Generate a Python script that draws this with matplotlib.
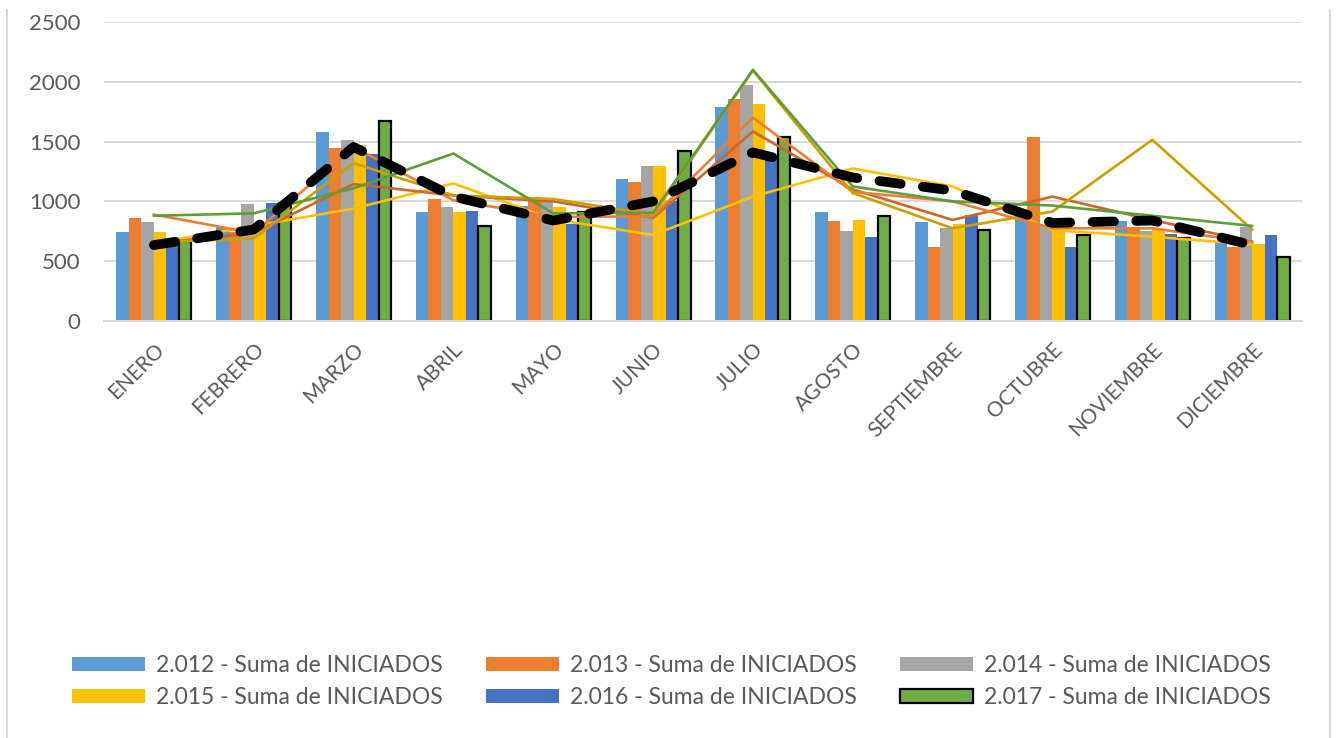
import matplotlib
matplotlib.use("Agg")
import matplotlib.pyplot as plt
import numpy as np
from matplotlib.lines import Line2D

months = ["ENERO", "FEBRERO", "MARZO", "ABRIL", "MAYO", "JUNIO", "JULIO",
          "AGOSTO", "SEPTIEMBRE", "OCTUBRE", "NOVIEMBRE", "DICIEMBRE"]

series_names = ["2.012 - Suma de INICIADOS", "2.013 - Suma de INICIADOS",
                "2.014 - Suma de INICIADOS", "2.015 - Suma de INICIADOS",
                "2.016 - Suma de INICIADOS", "2.017 - Suma de INICIADOS"]

b2012 = [740, 790, 1580, 910, 965, 1185, 1790, 910, 830, 930, 840, 650]
b2013 = [865, 740, 1450, 1020, 1000, 1160, 1860, 840, 620, 1535, 790, 620]
b2014 = [830, 975, 1515, 955, 1000, 1300, 1975, 755, 780, 800, 750, 790]
b2015 = [745, 760, 1470, 915, 955, 1300, 1815, 845, 810, 760, 770, 640]
b2016 = [650, 990, 1400, 920, 815, 1000, 1375, 705, 890, 620, 725, 715]
b2017 = [670, 990, 1675, 795, 915, 1420, 1535, 880, 760, 715, 695, 535]

# overlaid line series (no legend entries)
line_green = [880, 900, 1110, 1400, 900, 905, 2100, 1125, 1000, 965, 880, 795]
line_orange = [890, 735, 1455, 1010, 870, 875, 1700, 1080, 1000, 775, 775, 660]
line_brown = [650, 735, 1145, 1050, 1000, 862, 1585, 1100, 845, 1040, 845, 663]
line_gold = [660, 690, 1320, 1050, 1020, 890, 2095, 1070, 775, 915, 1515, 765]
line_yellow = [650, 795, 940, 1150, 850, 720, 1040, 1275, 1125, 760, 705, 640]
line_black = [635, 765, 1455, 1040, 840, 1000, 1410, 1200, 1090, 820, 840, 635]

yticks = [0, 500, 1000, 1500, 2000, 2500]

bars = [b2012, b2013, b2014, b2015, b2016, b2017]
bar_colors = ["#5B9BD5", "#ED7D31", "#A5A5A5", "#FFC000", "#4472C4", "#70AD47"]

FONT = ["Lato", "DejaVu Sans"]
plt.rcParams['font.family'] = FONT
TXT = "#595959"

fig = plt.figure(figsize=(13.36, 7.38), dpi=100)
ax = fig.add_axes([104/1336, 1 - 321/738, (1302-104)/1336, (321-22)/738])

x = np.arange(len(months))
bw = 0.125
for i, (vals, col) in enumerate(zip(bars, bar_colors)):
    off = (i - 2.5) * bw
    if i == 5:
        ax.bar(x + off, vals, width=bw, color=col, edgecolor="black",
               linewidth=1.6, label=series_names[i], zorder=2)
    else:
        ax.bar(x + off, vals, width=bw, color=col, linewidth=0,
               label=series_names[i], zorder=2)

lw = 1.9
ax.plot(x, line_yellow, color="#FFC000", lw=lw, zorder=3)
ax.plot(x, line_brown, color="#C8682C", lw=lw, zorder=3)
ax.plot(x, line_orange, color="#ED7D31", lw=lw, zorder=3)
ax.plot(x, line_gold, color="#C9A000", lw=lw, zorder=3)
ax.plot(x, line_green, color="#5E9E3A", lw=lw, zorder=3)
ax.plot(x, line_black, color="black", lw=7, zorder=4,
        dashes=(2.2, 2.3), dash_capstyle="round", solid_capstyle="round")

ax.set_xlim(-0.5, len(months) - 0.5)
ax.set_ylim(0, 2500)
ax.set_yticks(yticks)
ax.set_yticklabels([str(v) for v in yticks], fontsize=16, color=TXT)
ax.yaxis.grid(True, color="#D9D9D9", lw=1.4, zorder=0)
ax.set_axisbelow(True)
for s in ["top", "right", "left"]:
    ax.spines[s].set_visible(False)
ax.spines["bottom"].set_color("#D9D9D9")
ax.spines["bottom"].set_linewidth(1.4)
ax.tick_params(axis="both", length=0)
ax.tick_params(axis="y", pad=17)
ax.set_xticks(x)
ax.set_xticklabels(months, rotation=45, ha="right", rotation_mode="anchor",
                   fontsize=15, color=TXT)
ax.tick_params(axis="x", pad=13)

handles, labels = ax.get_legend_handles_labels()
# rows: 2012,2013,2014 / 2015,2016,2017 with ncol=3 (column-major fill)
order = [0, 3, 1, 4, 2, 5]
leg = fig.legend([handles[i] for i in order], [labels[i] for i in order],
                 ncol=3, loc="upper left", bbox_to_anchor=(72/1336, 1 - 655/738),
                 frameon=False, fontsize=16.5, handlelength=3.2, handleheight=0.55,
                 handletextpad=0.45, columnspacing=1.9, labelspacing=0.48,
                 borderaxespad=0, borderpad=0)
for t in leg.get_texts():
    t.set_color(TXT)

# outer chart border (left/right)
fig.add_artist(Line2D([7/1336, 7/1336], [0, 1 - 10/738], color="#D9D9D9", lw=1.5))
fig.add_artist(Line2D([1330/1336, 1330/1336], [0, 1 - 10/738], color="#D9D9D9", lw=1.5))

fig.savefig("out.png", dpi=100)
